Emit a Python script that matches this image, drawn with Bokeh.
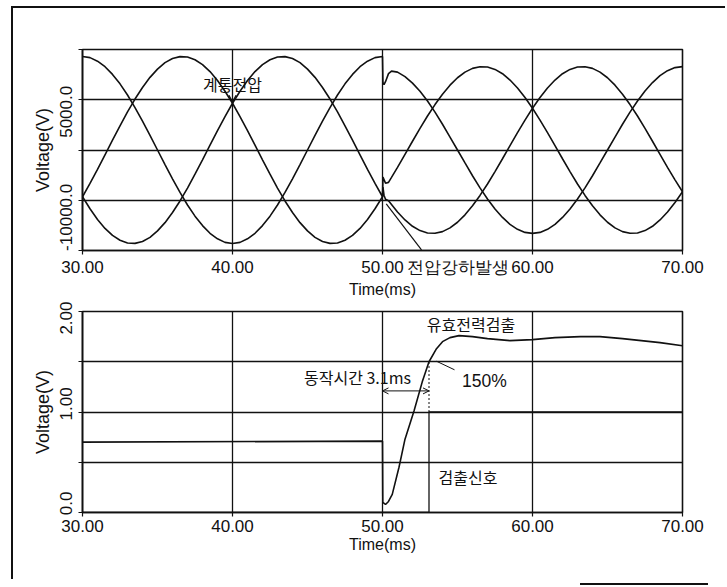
from bokeh.plotting import figure
from bokeh.models import Range1d, FixedTicker, Label, Arrow, OpenHead, Div, Spacer
from bokeh.layouts import column, row
from bokeh.embed import file_html
from bokeh.resources import INLINE

# ---------------- data ----------------
# top chart: three-phase system voltage [V] vs time [ms]
time_ms = [30, 30.5, 31, 31.5, 32, 32.5, 33, 33.5, 34, 34.5, 35, 35.5, 36, 36.5, 37, 37.5, 38, 38.5, 39, 39.5,
           40, 40.5, 41, 41.5, 42, 42.5, 43, 43.5, 44, 44.5, 45, 45.5, 46, 46.5, 47, 47.5, 48, 48.5, 49, 49.5, 50,
           50.03, 50.1, 50.2, 50.4, 50.6,
           51, 51.5, 52, 52.5, 53, 53.5, 54, 54.5, 55, 55.5, 56, 56.5, 57, 57.5, 58, 58.5, 59, 59.5,
           60, 60.5, 61, 61.5, 62, 62.5, 63, 63.5, 64, 64.5, 65, 65.5, 66, 66.5, 67, 67.5, 68, 68.5, 69, 69.5, 70]
phase_a = [9300, 9190, 8840, 8290, 7520, 6580, 5470, 4220, 2870, 1450, 0, -1450, -2870, -4220, -5470, -6580,
           -7520, -8290, -8840, -9190, -9300, -9190, -8840, -8290, -7520, -6580, -5470, -4220, -2870, -1450,
           0, 1450, 2870, 4220, 5470, 6580, 7520, 8290, 8840, 9190, 9300,
           6700, 6500, 6800, 7600, 7850,
           7750, 7300, 6650, 5850, 4880, 3770, 2560, 1290, 0, -1290, -2560, -3770, -4880, -5870, -6710, -7400,
           -7890, -8200, -8300, -8200, -7890, -7400, -6710, -5870, -4880, -3770, -2560, -1290, 0, 1290, 2560,
           3770, 4880, 5870, 6710, 7400, 7890, 8200, 8300]
phase_b = [-4650, -3330, -1930, -480, 980, 2410, 3790, 5070, 6220, 7230, 8050, 8690, 9100, 9290, 9250, 8980,
           8500, 7800, 6910, 5850, 4650, 3330, 1930, 480, -980, -2410, -3790, -5070, -6220, -7230, -8050,
           -8690, -9100, -9290, -9250, -8980, -8500, -7800, -6910, -5850, -4650,
           -2700, -2950, -3300, -3220, -2730,
           -1730, -430, 870, 2150, 3380, 4520, 5550, 6450, 7190, 7750, 8120, 8290, 8260, 8020, 7590, 6960,
           6170, 5220, 4150, 2970, 1730, 430, -870, -2150, -3380, -4520, -5550, -6450, -7190, -7750, -8120,
           -8290, -8260, -8020, -7590, -6960, -6170, -5220, -4150]
phase_c = [-4650, -5850, -6910, -7800, -8500, -8980, -9250, -9290, -9100, -8690, -8050, -7230, -6220, -5070,
           -3790, -2410, -980, 480, 1930, 3330, 4650, 5850, 6910, 7800, 8500, 8980, 9250, 9290, 9100, 8690,
           8050, 7230, 6220, 5070, 3790, 2410, 980, -480, -1930, -3330, -4650,
           -3700, -4500, -4900, -5050, -5420,
           -6170, -6960, -7590, -8020, -8260, -8290, -8120, -7750, -7190, -6450, -5550, -4520, -3380, -2150,
           -870, 430, 1730, 2970, 4150, 5220, 6170, 6960, 7590, 8020, 8260, 8290, 8120, 7750, 7190, 6450,
           5550, 4520, 3380, 2150, 870, -430, -1730, -2970, -4150]

# bottom chart: active-power detector output [V] vs time [ms]
power_t = [30, 50, 50.02, 50.2, 50.4, 50.65, 51.1, 51.5, 52.1, 52.65, 53.1, 53.6, 54.0, 54.5, 55.1,
           56, 57, 58.5, 60, 61.5, 63.2, 64.5, 66, 68.5, 70]
power_v = [0.70, 0.71, 0.10, 0.08, 0.11, 0.18, 0.45, 0.73, 1.01, 1.30, 1.50, 1.63, 1.70, 1.74, 1.76,
           1.75, 1.73, 1.71, 1.72, 1.74, 1.75, 1.75, 1.73, 1.69, 1.66]
# detection signal (step at 53.1 ms)
detect_t = [30, 53.1, 53.1, 70]
detect_v = [0, 0, 1, 1]

x_ticks = [30, 40, 50, 60, 70]
x_tick_labels = ["30.00", "40.00", "50.00", "60.00", "70.00"]
sag_label_x = 55.0
sag_label = "전압강하발생"
top_y_ticks = [-10000, -5000, 0, 5000, 10000]
top_y_label_pos = [-6700, 3800]
top_y_labels = ["-10000.0", "5000.0"]
bot_y_ticks = [0, 0.5, 1.0, 1.5, 2.0]
bot_y_label_pos = [0.09, 1.08, 1.94]
bot_y_labels = ["0.0", "1.00", "2.00"]

# annotation anchors (data coordinates)
sys_note = (40.0, 6600)
sys_arrow = (40.0, 5900, 40.0, 4750)
sag_leader_x = [50.25, 52.6]
sag_leader_y = [-5360, -9940]
op_time = 3.1
op_arrow = (50.0, 1.21, 53.1, 1.21)
op_note = (51.9, 1.35)
pct_note = (56.8, 1.31)
pct_leader_x = [53.6, 54.8]
pct_leader_y = [1.505, 1.42]
dotted_x = [53.1, 53.1]
dotted_y = [1.0, 1.5]
det_power_note = (55.9, 1.88)
det_sig_note = (55.7, 0.35)

NUM_FONT = "Liberation Sans"
KR_FONT = "Noto Sans CJK KR"
BLACK = "#111111"
LW = 1.6


def base_fig(y_range, mb_top, mb_bottom):
    p = figure(frame_width=600, frame_height=201, x_range=Range1d(30, 70), y_range=y_range,
               output_backend="svg", toolbar_location=None,
               min_border_left=69, min_border_right=47, min_border_top=mb_top, min_border_bottom=mb_bottom,
               background_fill_color="white", border_fill_color="white")
    p.outline_line_color = BLACK
    p.outline_line_width = LW
    p.outline_line_alpha = 1
    for ax in (p.xaxis[0], p.yaxis[0]):
        ax.axis_line_color = BLACK
        ax.axis_line_width = LW
        ax.major_tick_line_color = BLACK
        ax.major_tick_line_width = 1.2
        ax.major_tick_in = 0
        ax.major_tick_out = 4
        ax.minor_tick_line_color = BLACK
        ax.minor_tick_line_width = 1.2
        ax.minor_tick_in = 0
        ax.minor_tick_out = 4
        ax.major_label_text_font = NUM_FONT
        ax.major_label_text_font_size = "17px"
        ax.major_label_text_color = BLACK
        ax.major_label_text_font_style = "normal"
        ax.axis_label_text_color = BLACK
        ax.axis_label_text_font_style = "normal"
    xa = p.xaxis[0]
    xa.axis_label = "Time(ms)"
    xa.axis_label_text_font = NUM_FONT
    xa.axis_label_text_font_size = "16px"
    xa.axis_label_standoff = 1
    xa.major_label_standoff = 3
    ya = p.yaxis[0]
    ya.axis_label = "Voltage(V)"
    ya.axis_label_text_font = NUM_FONT
    ya.axis_label_text_font_size = "18px"
    ya.axis_label_standoff = 5
    ya.major_label_standoff = 6
    ya.major_label_orientation = "vertical"
    ya.major_tick_line_color = None
    p.xgrid.ticker = FixedTicker(ticks=x_ticks[1:-1])
    for g in (p.xgrid[0], p.ygrid[0]):
        g.grid_line_color = BLACK
        g.grid_line_width = 1.3
        g.grid_line_alpha = 1
    return p


def note(p, x, y, s, font=KR_FONT, size="16px", align="center"):
    p.add_layout(Label(x=x, y=y, text=s, text_font=font, text_font_size=size,
                       text_align=align, text_baseline="middle", text_color=BLACK))


# ---------------- top chart ----------------
p1 = base_fig(Range1d(-10000, 10000), 41, 51)
p1.xaxis[0].ticker = FixedTicker(ticks=x_ticks + [sag_label_x], minor_ticks=x_ticks)
p1.xaxis[0].major_label_overrides = dict(list(zip(x_ticks, x_tick_labels)) + [(sag_label_x, sag_label)])
p1.xaxis[0].major_tick_line_color = None
p1.yaxis[0].ticker = FixedTicker(ticks=top_y_label_pos, minor_ticks=top_y_ticks)
p1.yaxis[0].major_label_overrides = dict(zip(top_y_label_pos, top_y_labels))
p1.ygrid.ticker = FixedTicker(ticks=top_y_ticks[1:-1])
for ph in (phase_a, phase_b, phase_c):
    p1.line(time_ms, ph, line_color=BLACK, line_width=LW)

note(p1, sys_note[0], sys_note[1], "계통전압")
p1.add_layout(Arrow(end=OpenHead(size=7, line_width=1.2, line_color=BLACK),
                    x_start=sys_arrow[0], y_start=sys_arrow[1], x_end=sys_arrow[2], y_end=sys_arrow[3],
                    line_width=1.0, line_color=BLACK))
p1.line(sag_leader_x, sag_leader_y, line_color=BLACK, line_width=1.2)

# ---------------- bottom chart ----------------
p2 = base_fig(Range1d(0, 2), 10, 60)
p2.xaxis[0].ticker = FixedTicker(ticks=x_ticks)
p2.xaxis[0].major_label_overrides = dict(zip(x_ticks, x_tick_labels))
p2.yaxis[0].ticker = FixedTicker(ticks=bot_y_label_pos, minor_ticks=bot_y_ticks)
p2.yaxis[0].major_label_overrides = dict(zip(bot_y_label_pos, bot_y_labels))
p2.ygrid.ticker = FixedTicker(ticks=bot_y_ticks[1:-1])
p2.line(power_t, power_v, line_color=BLACK, line_width=LW)
p2.line(detect_t, detect_v, line_color=BLACK, line_width=1.3)
p2.line(dotted_x, dotted_y, line_color=BLACK, line_width=1.0, line_dash="2 2")

note(p2, det_power_note[0], det_power_note[1], "유효전력검출")
note(p2, op_note[0], op_note[1], "동작시간 %.1fms" % op_time, align="right")
p2.add_layout(Arrow(start=OpenHead(size=6, line_width=1.0, line_color=BLACK),
                    end=OpenHead(size=6, line_width=1.0, line_color=BLACK),
                    x_start=op_arrow[0], y_start=op_arrow[1], x_end=op_arrow[2], y_end=op_arrow[3],
                    line_width=1.0, line_color=BLACK))
p2.line(pct_leader_x, pct_leader_y, line_color=BLACK, line_width=1.0)
note(p2, pct_note[0], pct_note[1], "150%", font=NUM_FONT, size="17.5px")
note(p2, det_sig_note[0], det_sig_note[1], "검출신호")

# page frame: a top rule, a left rule and a short bottom-right rule, as in the scanned figure
top_rule = Div(text="", width=714, height=2, margin=0, styles={"background-color": "#111"})
left_rule = Div(text="", width=2, height=571, margin=0, styles={"background-color": "#111"})
corner_rule = Div(text="", width=128, height=2, margin=0, styles={"background-color": "#111"})
charts = column(p1, p2, spacing=0, margin=0)
layout = column(Spacer(width=10, height=6, margin=0),
                row(Spacer(width=11, height=2, margin=0), top_rule, spacing=0, margin=0),
                row(Spacer(width=11, height=10, margin=0), left_rule, charts, spacing=0, margin=0),
                Spacer(width=10, height=4, margin=0),
                row(Spacer(width=580, height=2, margin=0), corner_rule, spacing=0, margin=0),
                spacing=0, margin=0)

open("out.html", "w").write(file_html(layout, INLINE))
